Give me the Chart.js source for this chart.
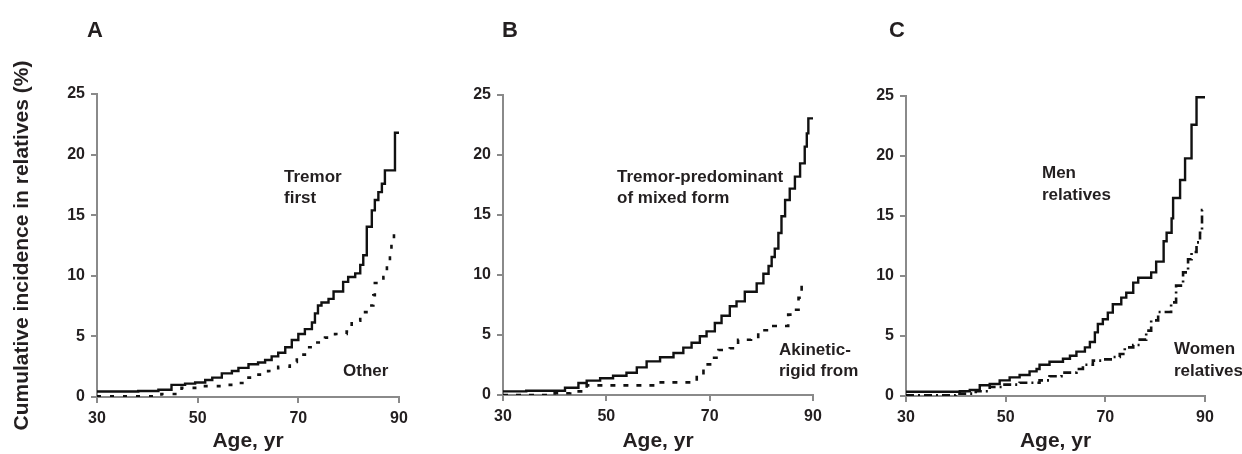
<!DOCTYPE html>
<html>
<head>
<meta charset="utf-8">
<script src="https://cdn.jsdelivr.net/npm/chart.js@4/dist/chart.umd.min.js"></script>
<style>
  html, body { margin: 0; padding: 0; background: #fff; }
  body { width: 1242px; height: 454px; position: relative; overflow: hidden; }
  canvas { position: absolute; top: 0; }
</style>
</head>
<body>
<canvas id="chart-a" width="420" height="454" style="left:0px"></canvas>
<canvas id="chart-b" width="440" height="454" style="left:420px"></canvas>
<canvas id="chart-c" width="402" height="454" style="left:840px"></canvas>
<script>
// age (yr) and cumulative incidence (%)
var xTicks = [30, 50, 70, 90];
var yTicks = [0, 5, 10, 15, 20, 25];

// A: tremor first vs other
var tremorFirstAge = [30, 38.2, 42.2, 44.8, 47.5, 49.5, 51.5, 52.9, 54.8, 56.8, 58.1, 60.1, 62, 63.4, 64.7, 66, 67.4, 68.7, 70, 71.3, 72.7, 73.3, 73.9, 74.6, 76, 77, 78.9, 79.9, 81.3, 82.3, 82.9, 83.6, 84.6, 85.2, 85.9, 86.6, 87.2, 89.2, 90];
var tremorFirstVal = [0.45, 0.5, 0.6, 1.0, 1.1, 1.2, 1.4, 1.6, 1.95, 2.15, 2.4, 2.7, 2.85, 3.05, 3.35, 3.65, 4.1, 4.7, 5.2, 5.6, 6.15, 6.9, 7.55, 7.8, 8.1, 8.7, 9.5, 9.9, 10.2, 10.9, 11.7, 14.05, 15.4, 16.25, 16.9, 17.6, 18.7, 21.8, 21.8];
var otherAge = [30, 42.8, 46.8, 49.5, 55.1, 57.4, 59.4, 61.7, 64, 66, 68.3, 69.7, 71.3, 73.3, 75.3, 77.3, 79.6, 80.6, 82.3, 83.9, 84.9, 85.2, 86.9, 87.6, 88.2, 88.5, 89, 90];
var otherVal = [0.05, 0.25, 0.75, 0.9, 1.0, 1.15, 1.6, 1.85, 2.15, 2.5, 2.9, 3.5, 4.1, 4.5, 4.9, 5.2, 5.4, 6.3, 7.0, 7.55, 8.4, 9.4, 9.9, 10.9, 11.9, 12.8, 13.7, 13.7];

// B: tremor-predominant / mixed vs akinetic-rigid
var mixedAge = [30, 34.5, 42, 44.6, 46.2, 48.8, 51.3, 53.9, 55.9, 57.8, 60.4, 63, 64.9, 66.5, 68.1, 69.4, 71, 72.3, 73.9, 75.2, 76.8, 79.1, 80.4, 81.4, 82, 82.6, 83.3, 83.9, 84.6, 85.5, 86.5, 87.5, 88.4, 88.8, 89.1, 90];
var mixedVal = [0.3, 0.35, 0.6, 1.0, 1.2, 1.4, 1.6, 1.85, 2.3, 2.8, 3.15, 3.5, 3.95, 4.35, 4.9, 5.3, 6.0, 6.6, 7.4, 7.8, 8.6, 9.3, 10.1, 10.75, 11.5, 12.2, 13.5, 14.9, 16.25, 17.2, 18.2, 19.3, 20.7, 21.8, 23.05, 23.05];
var akineticAge = [30, 40, 43, 46.2, 59.7, 67.5, 68.8, 70.4, 71.7, 73.9, 75.5, 78, 79.4, 81.5, 85.2, 86, 87.2, 87.8, 88.6];
var akineticVal = [0, 0.15, 0.3, 0.8, 1.05, 1.7, 2.55, 3.1, 3.75, 3.9, 4.6, 4.7, 5.4, 5.75, 6.7, 7.1, 8.1, 9.3, 9.3];

// C: men vs women relatives
var menAge = [30, 40.8, 42.8, 44.8, 46.8, 48.8, 50.8, 52.8, 54.8, 56.2, 56.8, 58.8, 61.5, 62.9, 64.2, 65.9, 66.9, 67.9, 68.5, 69.5, 70.5, 71.5, 73.2, 74.2, 75.6, 76.6, 79.2, 80.2, 81.7, 82.3, 83.3, 83.6, 85, 86, 87.3, 88.3, 90];
var menVal = [0.35, 0.4, 0.5, 0.9, 1.0, 1.3, 1.55, 1.75, 2.05, 2.25, 2.6, 2.85, 3.1, 3.35, 3.7, 4.05, 4.5, 5.3, 6.0, 6.4, 6.95, 7.65, 8.2, 8.6, 9.45, 9.85, 10.3, 11.2, 12.9, 13.6, 14.8, 16.5, 18.0, 19.8, 22.6, 24.9, 24.9];
var womenAge = [30, 40, 44, 46.8, 49.5, 52.8, 56.8, 58.8, 61.2, 64.2, 65.5, 67.5, 69.5, 71.5, 72.9, 73.9, 75.6, 76.9, 78.2, 79.2, 80.6, 83.2, 84.2, 85.6, 86.6, 87.3, 88.3, 89, 89.4, 89.7];
var womenVal = [0.05, 0.2, 0.4, 0.75, 0.95, 1.1, 1.3, 1.65, 1.95, 2.25, 2.6, 2.95, 3.05, 3.25, 3.5, 4.05, 4.25, 4.7, 5.45, 6.3, 7.0, 7.8, 9.2, 10.3, 11.4, 12.0, 12.8, 13.6, 15.5, 15.5];

const FONT = '"Liberation Sans", Arial, Helvetica, sans-serif';
const TEXT = '#231f20';
const AXIS = '#8a8a8a';

function pts(ages, vals) {
    return ages.map((a, i) => ({x: a, y: vals[i]}));
}

function series(ages, vals, dash) {
    return {
        data: pts(ages, vals),
        stepped: true,
        borderColor: '#111',
        borderWidth: dash.length ? 2.6 : 2.4,
        borderDash: dash,
        pointRadius: 0,
        fill: false
    };
}

const panelText = {
    id: 'panelText',
    afterDraw(chart, args, opts) {
        const ctx = chart.ctx;
        ctx.save();
        ctx.fillStyle = TEXT;
        ctx.textBaseline = 'middle';
        ctx.textAlign = 'left';
        opts.items.forEach(it => {
            ctx.font = 'bold ' + it.size + 'px ' + FONT;
            ctx.fillText(it.text, it.x, it.y);
        });
        ctx.restore();
    }
};

function makePanel(id, datasets, g) {
    new Chart(document.getElementById(id), {
        type: 'line',
        data: {datasets: datasets},
        plugins: [panelText],
        options: {
            responsive: false,
            animation: false,
            layout: {padding: {top: g.top, right: g.right, left: 0, bottom: 0}},
            plugins: {
                legend: {display: false},
                tooltip: {enabled: false},
                panelText: {items: g.texts}
            },
            scales: {
                x: {
                    type: 'linear',
                    min: xTicks[0],
                    max: xTicks[xTicks.length - 1],
                    afterBuildTicks: s => { s.ticks = xTicks.map(v => ({value: v})); },
                    ticks: {color: TEXT, padding: 6, font: {family: FONT, size: 16, weight: 'bold'}},
                    grid: {drawOnChartArea: false, drawTicks: true, tickLength: 6, color: AXIS, lineWidth: 2},
                    border: {display: true, color: AXIS, width: 2},
                    title: {display: true, text: 'Age, yr', color: TEXT, padding: 0,
                            font: {family: FONT, size: 21, weight: 'bold'}},
                    afterFit: s => { s.height = g.xh; }
                },
                y: {
                    min: yTicks[0],
                    max: yTicks[yTicks.length - 1],
                    afterBuildTicks: s => { s.ticks = yTicks.map(v => ({value: v})); },
                    ticks: {color: TEXT, padding: 6, font: {family: FONT, size: 16, weight: 'bold'}},
                    grid: {drawOnChartArea: false, drawTicks: true, tickLength: 6, color: AXIS, lineWidth: 2},
                    border: {display: true, color: AXIS, width: 2},
                    title: {display: g.ytitle, text: 'Cumulative incidence in relatives (%)', color: TEXT,
                            padding: {top: 10, bottom: 0},
                            font: {family: FONT, size: 21, weight: 'bold'}},
                    afterFit: s => { s.width = g.yw; }
                }
            }
        }
    });
}

makePanel('chart-a', [
    series(tremorFirstAge, tremorFirstVal, []),
    series(otherAge, otherVal, [4, 9])
], {top: 94, right: 21, xh: 57, yw: 97, ytitle: true, texts: [
    {text: 'A', x: 87, y: 31, size: 22},
    {text: 'Tremor', x: 284, y: 177, size: 17},
    {text: 'first', x: 284, y: 198, size: 17},
    {text: 'Other', x: 343, y: 371, size: 17}
]});

makePanel('chart-b', [
    series(mixedAge, mixedVal, []),
    series(akineticAge, akineticVal, [5, 8])
], {top: 95, right: 47, xh: 59, yw: 83, ytitle: false, texts: [
    {text: 'B', x: 82, y: 31, size: 22},
    {text: 'Tremor-predominant', x: 197, y: 177, size: 17},
    {text: 'of mixed form', x: 197, y: 198, size: 17},
    {text: 'Akinetic-', x: 359, y: 350, size: 17},
    {text: 'rigid from', x: 359, y: 371, size: 17}
]});

makePanel('chart-c', [
    series(menAge, menVal, []),
    series(womenAge, womenVal, [8, 4, 2, 4])
], {top: 96, right: 37, xh: 58, yw: 66, ytitle: false, texts: [
    {text: 'C', x: 49, y: 31, size: 22},
    {text: 'Men', x: 202, y: 173, size: 17},
    {text: 'relatives', x: 202, y: 195, size: 17},
    {text: 'Women', x: 334, y: 349, size: 17},
    {text: 'relatives', x: 334, y: 371, size: 17}
]});
</script>
</body>
</html>
